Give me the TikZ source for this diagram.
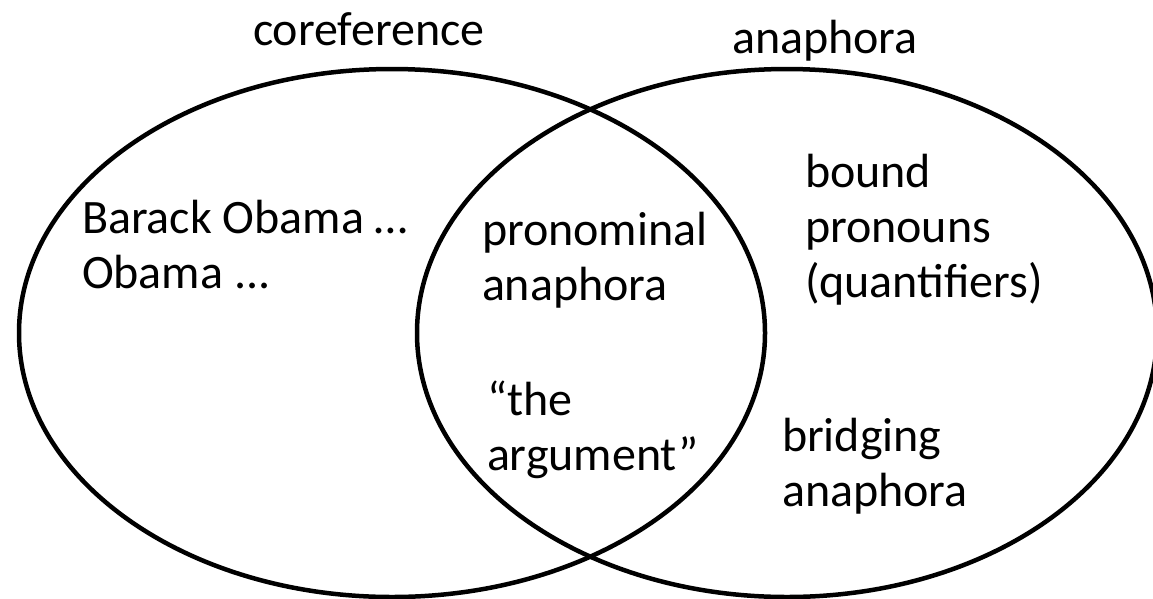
\documentclass[tikz,border=0pt]{standalone}
\usepackage{fontspec}
\setmainfont{Carlito}
\begin{document}
\begin{tikzpicture}[x=1pt,y=-1pt,
  setline/.style={line width=4.5pt,black},
  label/.style={inner sep=0pt,outer sep=0pt,anchor=base west,align=left,
    font=\fontsize{48}{55}\selectfont}]
\useasboundingbox (0,0) rectangle (1153,598);
% the two overlapping sets
\draw[setline] (392,333) ellipse [x radius=373pt, y radius=264pt];
\draw[setline] (787,333) ellipse [x radius=370pt, y radius=264pt];
% set titles
\node[label] (coref) at (253,45) {coreference};
\node[label] (anaph) at (732,53) {anaphora};
% members (each node is placed by the baseline of its last line)
\node[label] (obama) at (82,288) {Barack Obama …\\Obama ...};
\node[label] (pron) at (482,300) {pronominal\\anaphora};
\node[label] (arg) at (487,470) {“the\\argument”};
\node[label] (bound) at (805,297) {bound\\pronouns\\(quantifiers)};
\node[label] (bridge) at (782,506) {bridging\\anaphora};
\end{tikzpicture}
\end{document}
